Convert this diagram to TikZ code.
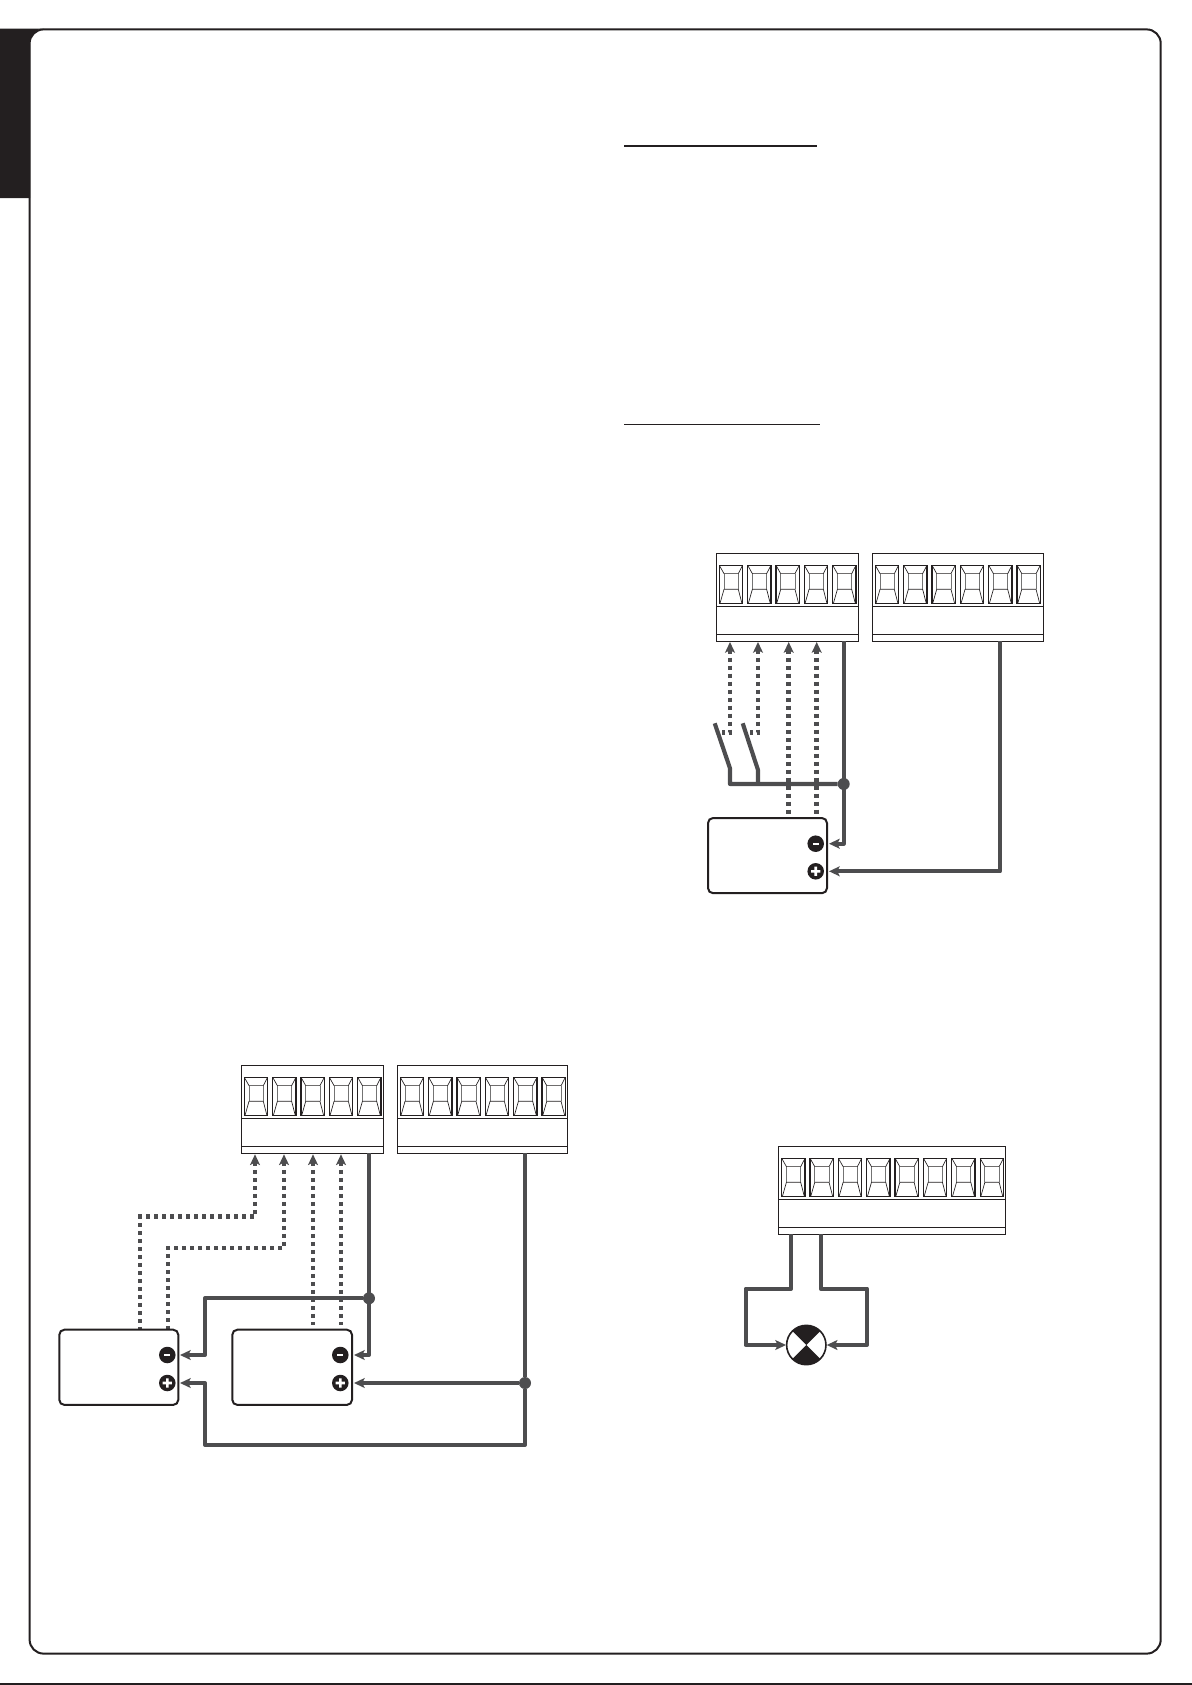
\documentclass[tikz,border=0pt]{standalone}
\usetikzlibrary{arrows.meta}
\definecolor{inkc}{HTML}{231F20}
\definecolor{wirec}{HTML}{4D4D4F}
\def\pxu{0.75pt}
\tikzset{
  x=0.75pt,y=-0.75pt,
  every node/.style={inner sep=0pt,outer sep=0pt},
  frameline/.style={draw=inkc,line width=1.5pt,rounded corners=10.5pt},
  blockbody/.style={draw=inkc,line width=1pt,fill=white,anchor=north west,minimum height=66pt},
  blockline/.style={draw=inkc,line width=1pt},
  cellouter/.style={draw=inkc,line width=0.95pt},
  cellthin/.style={draw=inkc,line width=0.5pt},
  cellgray/.style={draw=black!55,line width=0.6pt},
  wire/.style={draw=wirec,line width=3.1pt,line join=round},
  awire/.style={wire,-{Stealth[length=8pt,width=7.4pt,inset=1.8pt]}},
  dotwire/.style={draw=wirec,line width=3.4pt,dash pattern=on 3pt off 3pt,line join=miter},
  adot/.style={dotwire,{Stealth[length=8pt,width=7.4pt,inset=1.8pt]}-},
  junction/.style={circle,fill=wirec,minimum size=9pt},
  devbox/.style={draw=inkc,line width=1.5pt,rounded corners=3.8pt,fill=white,anchor=north west,minimum height=56.4pt},
  sign/.style={circle,fill=inkc,minimum size=12.4pt},
  lampc/.style={circle,draw=inkc,line width=1.2pt,fill=white,minimum size=29.5pt}
}
\newcommand{\cellat}[2]{%
  \begin{scope}[shift={(#1,#2)}]
    \draw[cellgray] (4.7,8.3) -- (4.7,24) (19,8.3) -- (19,24);
    \draw[cellthin] (4.7,8.3) -- (19,8.3) (4.7,24) -- (19,24)
      (0,0) -- (4.7,8.3) (23.3,0) -- (19,8.3)
      (4.7,24) -- (0.6,38.4) (19,24) -- (22.7,38.4);
    \draw[cellouter] (0,0) rectangle (23.3,38.4);
  \end{scope}}
\newcommand{\tblock}[5]{% name x y width ncells
  \node[blockbody,minimum width={#4*\pxu}] (#1) at (#2,#3) {};
  \draw[blockline] (#2,#3+53) -- (#2+#4,#3+53) (#2,#3+81) -- (#2+#4,#3+81);
  \foreach \ci in {1,...,#5}{\pgfmathsetmacro{\cx}{#2+3+28.35*(\ci-1)}\cellat{\cx}{#3+12}}}
\newcommand{\devbox}[4]{% name x y width
  \node[devbox,minimum width={#4*\pxu}] (#1) at (#2,#3) {};}
\newcommand{\minussign}[3]{%
  \node[sign] (#1) at (#2,#3) {};
  \fill[white] (#2-2.9,#3-1.2) rectangle (#2+2.9,#3+1.2);}
\newcommand{\plussign}[3]{%
  \node[sign] (#1) at (#2,#3) {};
  \fill[white] (#2-4.6,#3-1.3) rectangle (#2+4.6,#3+1.3) (#2-1.3,#3-4.6) rectangle (#2+1.3,#3+4.6);}
\begin{document}
\begin{tikzpicture}
\useasboundingbox (0,0) rectangle (1192,1685);
% page frame and tab
\draw[frameline] (29.6,29.4) rectangle (1160.7,1653.6);
\fill[inkc] (0,28.6) -- (44,28.6) arc[start angle=90,end angle=180,radius=10.5pt] -- (30,198) -- (0,198) -- cycle;
\draw[inkc,line width=1.1pt] (0,1684) -- (1192,1684);
% heading rules
\coordinate (ruleAa) at (624,146);
\coordinate (ruleAb) at (816.7,146);
\coordinate (ruleBa) at (624,424.3);
\coordinate (ruleBb) at (820,424.3);
\draw[inkc,line width=0.9pt] (ruleAa) -- (ruleAb);
\draw[inkc,line width=0.9pt] (ruleBa) -- (ruleBb);

% ---------- upper right diagram ----------
\tblock{ra}{716.3}{553.3}{142}{5}
\tblock{rb}{872.3}{553.3}{171}{6}
\coordinate (rp1) at (730,642);
\coordinate (rp2) at (758,642);
\coordinate (rp3) at (788.7,642);
\coordinate (rp4) at (816.7,642);
\coordinate (rp5) at (843.7,641);
\coordinate (rp6) at (1000,641);
\coordinate (rs1) at (722,732.7);
\coordinate (rs2) at (750,732.7);
\coordinate (rc1) at (730,732.7);
\coordinate (rc2) at (758,732.7);
\coordinate (rb1) at (714.7,723.3);
\coordinate (rb2) at (742.7,723.3);
\coordinate (rh1) at (730,768.3);
\coordinate (rh2) at (758,770);
\coordinate (rk1) at (730,784);
\coordinate (rk2) at (758,784);
\coordinate (rt3) at (788.7,818);
\coordinate (rt4) at (816.7,818);
\draw[adot] (rp1) -- (rc1) -- (rs1);
\draw[adot] (rp2) -- (rc2) -- (rs2);
\draw[adot] (rp3) -- (rt3);
\draw[adot] (rp4) -- (rt4);
\node[junction] (rj) at (843.7,784) {};
\draw[wire] (rb1) -- (rh1) -- (rk1) -- (rj);
\draw[wire] (rb2) -- (rh2) -- (rk2);
\devbox{rd}{708}{818}{119}
\minussign{rm}{815.7}{843.7}
\plussign{rq}{815.7}{871.3}
\coordinate (rma) at (829,843.7);
\coordinate (rqa) at (829,871.3);
\draw[awire] (rp5) -- (rp5 |- rma) -- (rma);
\draw[awire] (rp6) -- (rp6 |- rqa) -- (rqa);

% ---------- lower left diagram ----------
\tblock{la}{241.3}{1065.3}{142}{5}
\tblock{lb}{397.3}{1065.3}{170}{6}
\coordinate (lp1) at (255,1154.3);
\coordinate (lp2) at (284,1154.3);
\coordinate (lp3) at (313,1154.3);
\coordinate (lp4) at (341,1154.3);
\coordinate (lp5) at (369,1153.3);
\coordinate (lp6) at (525,1153.3);
\coordinate (lc1) at (255,1216.7);
\coordinate (ld1) at (140,1216.7);
\coordinate (le1) at (140,1329.7);
\coordinate (lc2) at (284,1248);
\coordinate (ld2) at (168,1248);
\coordinate (le2) at (168,1329.7);
\coordinate (le3) at (313,1325);
\coordinate (le4) at (341,1325);
\draw[adot] (lp1) -- (lc1) -- (ld1) -- (le1);
\draw[adot] (lp2) -- (lc2) -- (ld2) -- (le2);
\draw[adot] (lp3) -- (le3);
\draw[adot] (lp4) -- (le4);
\devbox{lda}{59.3}{1329.7}{119}
\devbox{ldb}{232.3}{1329.7}{119.7}
\minussign{lma}{167.3}{1355}
\plussign{lqa}{167.3}{1383}
\minussign{lmb}{340.3}{1355}
\plussign{lqb}{340.3}{1383}
\coordinate (lta) at (180,1355);
\coordinate (ltb) at (180,1383);
\coordinate (ltc) at (354,1355);
\coordinate (ltd) at (354,1383);
\coordinate (lbu) at (205,1298.3);
\coordinate (lbd) at (205,1444.7);
\node[junction] (lj1) at (369,1298.3) {};
\node[junction] (lj2) at (525,1383) {};
\draw[awire] (lp5) -- (lp5 |- ltc) -- (ltc);
\draw[awire] (lj1) -- (lbu) -- (lbu |- lta) -- (lta);
\draw[wire] (lp6) -- (lj2);
\draw[awire] (lj2) -- (ltd);
\draw[awire] (lj2) -- (lj2 |- lbd) -- (lbd) -- (lbd |- ltb) -- (ltb);

% ---------- lower right diagram ----------
\tblock{ta}{778.7}{1146.3}{227}{8}
\coordinate (tp1) at (791,1234.3);
\coordinate (tp2) at (820.7,1234.3);
\coordinate (tc1) at (791,1288.7);
\coordinate (tc2) at (820.7,1288.7);
\coordinate (td1) at (745.7,1288.7);
\coordinate (td2) at (867,1288.7);
\coordinate (te1) at (745.7,1345);
\coordinate (te2) at (867,1345);
\coordinate (tt1) at (786,1345);
\coordinate (tt2) at (826.7,1345);
\node[lampc] (lamp) at (806.3,1345) {};
\fill[inkc] (lamp.north west) arc[start angle=135,end angle=45,radius=14.75pt] -- (lamp.center) -- cycle;
\fill[inkc] (lamp.south east) arc[start angle=-45,end angle=-135,radius=14.75pt] -- (lamp.center) -- cycle;
\draw[awire] (tp1) -- (tc1) -- (td1) -- (te1) -- (tt1);
\draw[awire] (tp2) -- (tc2) -- (td2) -- (te2) -- (tt2);
\end{tikzpicture}
\end{document}
